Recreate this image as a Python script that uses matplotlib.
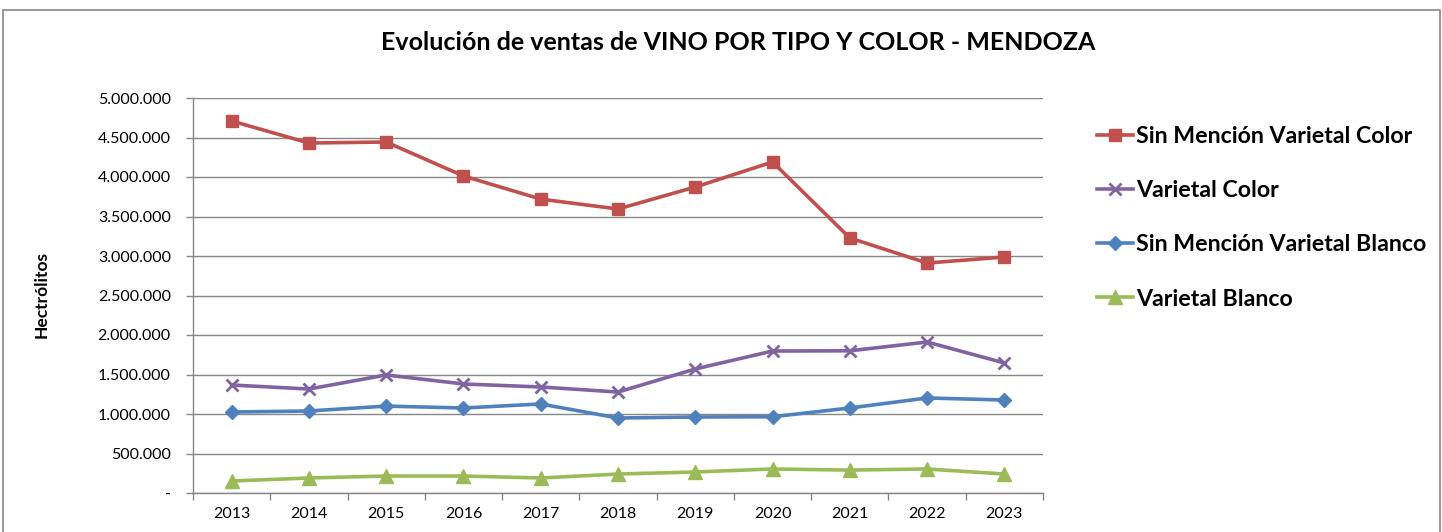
import matplotlib
matplotlib.use("Agg")
import matplotlib.pyplot as plt
from matplotlib.ticker import FuncFormatter, FixedLocator
from matplotlib.patches import Rectangle

years = [2013, 2014, 2015, 2016, 2017, 2018, 2019, 2020, 2021, 2022, 2023]
sin_mencion_color = [4709000, 4430000, 4443000, 4013000, 3720000, 3595000, 3873000, 4190000, 3228000, 2911000, 2987000]
varietal_color = [1367000, 1316000, 1494000, 1380000, 1342000, 1278000, 1570000, 1797000, 1800000, 1911000, 1646000]
sin_mencion_blanco = [1025000, 1038000, 1100000, 1076000, 1127000, 949000, 962000, 965000, 1076000, 1203000, 1177000]
varietal_blanco = [152000, 190000, 215000, 215000, 190000, 240000, 266000, 304000, 290000, 304000, 240000]

series_names = ["Sin Mención Varietal Color", "Varietal Color",
                "Sin Mención Varietal Blanco", "Varietal Blanco"]
title = "Evolución de ventas de VINO POR TIPO Y COLOR - MENDOZA"
ylabel = "Hectrólitos"

plt.rcParams['font.family'] = ['Lato', 'DejaVu Sans']

fig = plt.figure(figsize=(14.42, 5.32), dpi=100)
ax = fig.add_axes([193/1442, 1-493/532, (1043-193)/1442, (493-98)/532])

x = list(range(len(years)))
styles = [
    dict(color="#C0504D", marker="s", markersize=9),
    dict(color="#8064A2", marker="x", markersize=9, markeredgewidth=2),
    dict(color="#4F81BD", marker="D", markersize=7),
    dict(color="#9BBB59", marker="^", markersize=10),
]
data = [sin_mencion_color, varietal_color, sin_mencion_blanco, varietal_blanco]
handles = []
for vals, name, st in zip(data, series_names, styles):
    h, = ax.plot(x, vals, lw=2.6, label=name, **st)
    handles.append(h)

ax.set_xlim(-0.5, len(years) - 0.5)
ax.set_ylim(0, 5000000)
ax.set_yticks(range(0, 5000001, 500000))

def fmt(v, pos):
    if v == 0:
        return "-"
    return f"{int(v):,}".replace(",", ".")
ax.yaxis.set_major_formatter(FuncFormatter(fmt))
ax.set_xticks(x)
ax.set_xticklabels([str(y) for y in years])
ax.xaxis.set_minor_locator(FixedLocator([i - 0.5 for i in range(len(years) + 1)]))
ax.tick_params(axis='x', which='major', length=0, labelsize=11.5, pad=10)
ax.tick_params(axis='x', which='minor', length=5, color="#868686", width=1)
ax.tick_params(axis='y', length=5, color="#868686", width=1, labelsize=11.5, pad=11)
ax.grid(axis='y', color="#868686", lw=1)
ax.set_axisbelow(True)
for s in ['top', 'right']:
    ax.spines[s].set_visible(False)
for s in ['left', 'bottom']:
    ax.spines[s].set_color("#868686")
    ax.spines[s].set_linewidth(1)

fig.text(738/1442, 1-42/532, title, ha='center', va='center', fontsize=18, fontweight='bold')
fig.text(42/1442, 1-295/532, ylabel, ha='center', va='center', rotation=90, fontsize=12.5, fontweight='bold')

leg = fig.legend(handles=handles, loc='upper left', bbox_to_anchor=(1097/1442, 1-126/532),
                 frameon=False, prop={'weight': 'bold', 'size': 16.7},
                 borderpad=0, borderaxespad=0,
                 labelspacing=1.43, handlelength=1.55, handletextpad=0.12)

fig.patches.append(Rectangle((3/1442, -0.1), (1440-3)/1442, 1.1 - 10/532, transform=fig.transFigure,
                             fill=False, edgecolor="#868686", lw=1.2))

fig.savefig("out.png", dpi=100)
